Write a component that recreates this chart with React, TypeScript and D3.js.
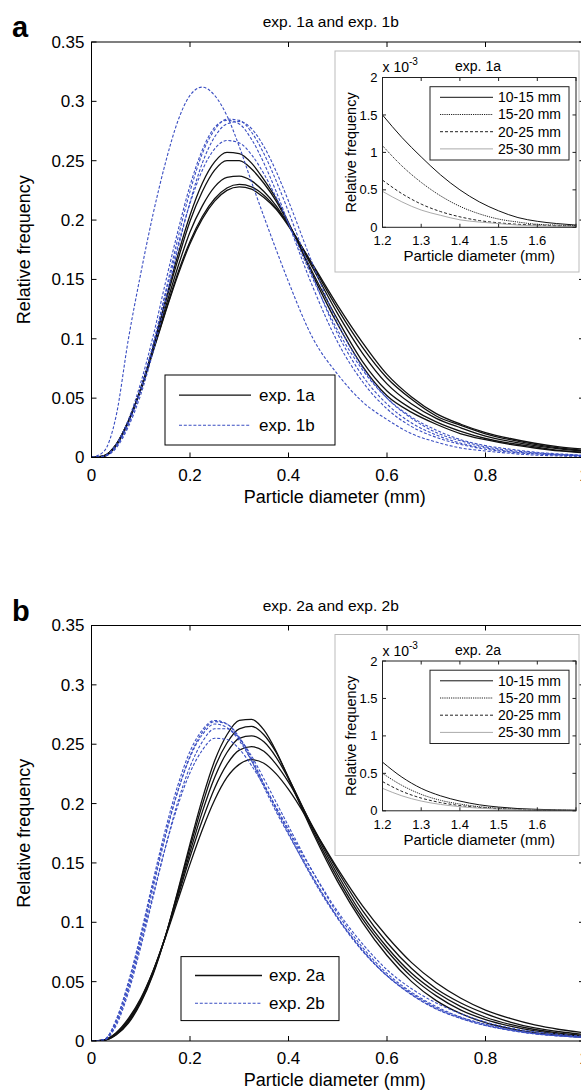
import React from 'react';
import * as d3 from 'd3';

// ---------- main plot data ----------
const X_GRID = [0, 0.025, 0.05, 0.075, 0.1, 0.125, 0.15, 0.175, 0.2, 0.225, 0.25, 0.275, 0.3, 0.325, 0.35, 0.375, 0.4, 0.45, 0.5, 0.55, 0.6, 0.65, 0.7, 0.75, 0.8, 0.85, 0.9, 0.95, 1.0];

// exp. 1a (black, solid)
const EXP1A_1 = [0, .001, .01, .03, .058, .093, .132, .17, .204, .231, .249, .257, .256, .248, .234, .218, .198, .153, .112, .077, .052, .038, .028, .02, .015, .011, .008, .0055, .004];
const EXP1A_2 = [0, .001, .01, .03, .058, .092, .13, .166, .199, .224, .242, .25, .25, .243, .231, .216, .197, .155, .116, .081, .056, .041, .03, .022, .016, .012, .009, .006, .0045];
const EXP1A_3 = [0, .0012, .0105, .0305, .0575, .091, .126, .16, .19, .212, .228, .236, .237, .233, .224, .212, .196, .159, .121, .088, .062, .045, .033, .025, .018, .0135, .01, .0073, .0055];
const EXP1A_4 = [0, .0014, .011, .031, .057, .09, .123, .155, .182, .203, .218, .227, .23, .228, .221, .21, .196, .161, .125, .093, .067, .049, .035, .027, .02, .015, .011, .008, .006];
const EXP1A_5 = [0, .0015, .011, .031, .057, .089, .122, .153, .18, .201, .216, .225, .228, .226, .219, .209, .195, .162, .128, .097, .07, .051, .037, .028, .021, .016, .012, .009, .007];
// exp. 1b (blue, dashed)
const EXP1B_1 = [0, .005, .035, .1, .155, .205, .248, .283, .305, .312, .305, .288, .262, .232, .203, .175, .148, .1, .07, .047, .032, .02, .013, .008, .0055, .0035, .002, .0013, .0008];
const EXP1B_2 = [0, .001, .009, .028, .057, .095, .139, .184, .224, .256, .276, .285, .284, .274, .256, .233, .207, .152, .104, .069, .045, .029, .019, .012, .008, .005, .0033, .0022, .0015];
const EXP1B_3 = [0, .0012, .011, .032, .063, .102, .147, .19, .229, .259, .278, .284, .281, .268, .248, .224, .197, .143, .097, .064, .041, .026, .017, .011, .007, .0045, .003, .002, .0013];
const EXP1B_4 = [0, .0008, .008, .026, .053, .089, .131, .175, .215, .248, .27, .281, .283, .277, .262, .241, .216, .162, .113, .076, .05, .033, .021, .014, .009, .006, .004, .0026, .0017];
const EXP1B_5 = [0, .001, .0095, .029, .058, .095, .137, .178, .214, .242, .26, .267, .265, .255, .239, .219, .197, .15, .107, .074, .05, .034, .023, .015, .01, .007, .0045, .003, .002];

// exp. 2a (black, solid)
const EXP2A_1 = [0, .0005, .005, .015, .032, .056, .088, .126, .166, .204, .236, .258, .27, .271, .262, .244, .221, .175, .134, .1, .072, .05, .034, .023, .0155, .0105, .007, .0047, .0032];
const EXP2A_2 = [0, .0006, .0055, .016, .033, .057, .088, .125, .163, .199, .23, .251, .263, .265, .258, .243, .222, .177, .137, .103, .076, .054, .038, .026, .018, .0125, .0085, .0058, .004];
const EXP2A_3 = [0, .0007, .006, .017, .034, .058, .088, .123, .159, .193, .222, .243, .255, .257, .252, .239, .221, .179, .14, .106, .079, .057, .041, .029, .02, .014, .0097, .0067, .0047];
const EXP2A_4 = [0, .0008, .0065, .018, .035, .059, .088, .121, .155, .186, .213, .233, .245, .248, .244, .233, .218, .18, .143, .11, .083, .061, .044, .032, .023, .016, .011, .0078, .0055];
const EXP2A_5 = [0, .001, .007, .019, .036, .059, .087, .118, .149, .178, .203, .222, .233, .237, .234, .225, .212, .179, .145, .114, .088, .066, .049, .036, .026, .019, .0135, .0097, .007];
// exp. 2b (blue, dashed)
const EXP2B_1 = [0, .001, .018, .05, .09, .135, .178, .215, .244, .262, .27, .267, .255, .236, .214, .193, .174, .137, .104, .077, .055, .039, .027, .019, .013, .009, .006, .0042, .003];
const EXP2B_2 = [0, .0008, .015, .045, .085, .129, .172, .21, .24, .26, .269, .267, .256, .238, .217, .196, .177, .138, .104, .076, .055, .039, .027, .019, .013, .009, .006, .0042, .003];
const EXP2B_3 = [0, .0012, .017, .048, .088, .132, .174, .21, .239, .258, .267, .264, .253, .236, .216, .195, .175, .136, .103, .076, .055, .04, .028, .02, .014, .0095, .0065, .0045, .0032];
const EXP2B_4 = [0, .0007, .013, .041, .079, .121, .163, .201, .231, .252, .263, .263, .255, .24, .221, .201, .181, .142, .107, .079, .057, .041, .029, .02, .014, .0095, .0065, .0045, .0032];
const EXP2B_5 = [0, .001, .015, .044, .082, .123, .163, .198, .226, .245, .255, .254, .246, .232, .215, .197, .178, .142, .109, .082, .06, .044, .032, .023, .016, .011, .0078, .0055, .004];

const Y_TICKS = [0, 0.05, 0.1, 0.15, 0.2, 0.25, 0.3, 0.35];
const Y_TICK_LABELS = ['0', '0.05', '0.1', '0.15', '0.2', '0.25', '0.3', '0.35'];
const X_TICKS = [0, 0.2, 0.4, 0.6, 0.8, 1.0];
const X_TICK_LABELS = ['0', '0.2', '0.4', '0.6', '0.8', '1'];

// ---------- inset data (values x 10^-3) ----------
const INSET_X = [1.2, 1.25, 1.3, 1.35, 1.4, 1.45, 1.5, 1.55, 1.6, 1.65, 1.7];
const INSET_CLASSES = ['10-15 mm', '15-20 mm', '20-25 mm', '25-30 mm'];
const INSET1A_10_15 = [1.5, 1.2, 0.94, 0.7, 0.5, 0.34, 0.22, 0.13, 0.08, 0.05, 0.03];
const INSET1A_15_20 = [1.09, 0.82, 0.6, 0.42, 0.28, 0.18, 0.11, 0.07, 0.04, 0.03, 0.02];
const INSET1A_20_25 = [0.63, 0.45, 0.31, 0.21, 0.14, 0.09, 0.06, 0.04, 0.03, 0.02, 0.015];
const INSET1A_25_30 = [0.48, 0.34, 0.23, 0.16, 0.1, 0.07, 0.05, 0.03, 0.02, 0.015, 0.01];
const INSET2A_10_15 = [0.65, 0.45, 0.3, 0.2, 0.13, 0.08, 0.05, 0.03, 0.02, 0.012, 0.008];
const INSET2A_15_20 = [0.5, 0.34, 0.22, 0.14, 0.09, 0.055, 0.035, 0.02, 0.013, 0.008, 0.005];
const INSET2A_20_25 = [0.39, 0.26, 0.17, 0.11, 0.07, 0.045, 0.028, 0.018, 0.011, 0.007, 0.004];
const INSET2A_25_30 = [0.3, 0.2, 0.13, 0.085, 0.055, 0.035, 0.022, 0.014, 0.009, 0.006, 0.004];
const INSET_X_TICKS = [1.2, 1.3, 1.4, 1.5, 1.6, 1.7];
const INSET_X_LABELS = ['1.2', '1.3', '1.4', '1.5', '1.6', ''];
const INSET_Y_TICKS = [0, 0.5, 1, 1.5, 2];
const INSET_Y_LABELS = ['0', '0.5', '1', '1.5', '2'];

const FONT = 'Liberation Sans, Arial, Helvetica, sans-serif';
const BLUE = '#3a4ec2';
const INSET_STYLES = [
  { stroke: '#111', dash: undefined },
  { stroke: '#222', dash: '1.2 1' },
  { stroke: '#222', dash: '3 2' },
  { stroke: '#aaa', dash: undefined },
];

type LegendLayout = { x: number; y: number; w: number; h: number; lx0: number; lx1: number; y1: number; y2: number; tx: number };

type PanelProps = {
  oy: number;
  letter: string;
  title: string;
  black: number[][];
  blue: number[][];
  nameA: string;
  nameB: string;
  insetTitle: string;
  inset: number[][];
  legend: LegendLayout;
  id: string;
};

function Panel(p: PanelProps) {
  const { oy } = p;
  const L = 91.5, R = 584, T = oy + 42, B = oy + 457.5;
  const x = d3.scaleLinear().domain([0, 1]).range([L, R]);
  const y = d3.scaleLinear().domain([0, 0.35]).range([B, T]);
  const line = d3.line<number>()
    .x((_, i) => x(X_GRID[i]))
    .y((d) => y(d))
    .curve(d3.curveMonotoneX);

  // inset
  const iL = 382.5, iR = 576, iT = oy + 77.5, iB = oy + 227.3;
  const xi = d3.scaleLinear().domain([1.2, 1.7]).range([iL, iR]);
  const yi = d3.scaleLinear().domain([0, 2]).range([iB, iT]);
  const iline = d3.line<number>()
    .x((_, i) => xi(INSET_X[i]))
    .y((d) => yi(d))
    .curve(d3.curveMonotoneX);
  const lg = p.legend;
  const tl = 5;

  return (
    <g fontFamily={FONT}>
      <defs>
        <clipPath id={`clip-${p.id}`}>
          <rect x={L} y={T} width={R - L} height={B - T} />
        </clipPath>
        <clipPath id={`iclip-${p.id}`}>
          <rect x={iL} y={iT} width={iR - iL} height={iB - iT} />
        </clipPath>
      </defs>
      <text x={12} y={oy + 37} fontSize={29} fontWeight="bold" fontFamily={FONT}>{p.letter}</text>
      <text x={(L + R) / 2 - 7} y={oy + 27} fontSize={15.5} textAnchor="middle">{p.title}</text>

      {/* curves */}
      <g clipPath={`url(#clip-${p.id})`} fill="none">
        {p.black.map((s, i) => (
          <path key={`k${i}`} d={line(s) || ''} stroke="#111" strokeWidth={1.3} />
        ))}
        {p.blue.map((s, i) => (
          <path key={`b${i}`} d={line(s) || ''} stroke={BLUE} strokeWidth={1.1} strokeDasharray="3 1.8" />
        ))}
      </g>

      {/* axes box */}
      <rect x={L} y={T} width={R - L} height={B - T} fill="none" stroke="#000" strokeWidth={1} />
      {Y_TICKS.map((t, i) => (
        <g key={`yt${i}`}>
          <line x1={L} x2={L + tl} y1={y(t)} y2={y(t)} stroke="#000" />
          <line x1={R} x2={R - tl} y1={y(t)} y2={y(t)} stroke="#000" />
          <text x={L - 7} y={y(t)} dy="0.35em" fontSize={17} textAnchor="end">{Y_TICK_LABELS[i]}</text>
        </g>
      ))}
      {X_TICKS.map((t, i) => (
        <g key={`xt${i}`}>
          <line x1={x(t)} x2={x(t)} y1={B} y2={B - tl} stroke="#000" />
          <line x1={x(t)} x2={x(t)} y1={T} y2={T + tl} stroke="#000" />
          <text x={x(t)} y={B + 23} fontSize={17} textAnchor="middle">{X_TICK_LABELS[i]}</text>
        </g>
      ))}
      <text x={(L + R) / 2 - 3} y={B + 45} fontSize={18} textAnchor="middle">Particle diameter (mm)</text>
      <text transform={`translate(30,${(T + B) / 2}) rotate(-90)`} fontSize={18} textAnchor="middle">Relative frequency</text>

      {/* main legend */}
      <rect x={lg.x} y={oy + lg.y} width={lg.w} height={lg.h} fill="#fff" stroke="#000" strokeWidth={1} />
      <line x1={lg.lx0} x2={lg.lx1} y1={oy + lg.y1} y2={oy + lg.y1} stroke="#111" strokeWidth={1.3} />
      <line x1={lg.lx0} x2={lg.lx1} y1={oy + lg.y2} y2={oy + lg.y2} stroke={BLUE} strokeWidth={1.1} strokeDasharray="3 1.8" />
      <text x={lg.tx} y={oy + lg.y1} dy="0.35em" fontSize={17}>{p.nameA}</text>
      <text x={lg.tx} y={oy + lg.y2} dy="0.35em" fontSize={17}>{p.nameB}</text>

      {/* inset */}
      <rect x={335} y={oy + 51} width={244} height={221} fill="#fff" stroke="#bbb" strokeWidth={1} />
      <g clipPath={`url(#iclip-${p.id})`} fill="none">
        {p.inset.map((s, i) => (
          <path key={`i${i}`} d={iline(s) || ''} stroke={INSET_STYLES[i].stroke} strokeWidth={1} strokeDasharray={INSET_STYLES[i].dash} />
        ))}
      </g>
      <rect x={iL} y={iT} width={iR - iL} height={iB - iT} fill="none" stroke="#222" strokeWidth={1} />
      {INSET_Y_TICKS.map((t, i) => (
        <g key={`iyt${i}`}>
          <line x1={iL} x2={iL + 3.5} y1={yi(t)} y2={yi(t)} stroke="#222" />
          <line x1={iR} x2={iR - 3.5} y1={yi(t)} y2={yi(t)} stroke="#222" />
          <text x={iL - 5} y={yi(t)} dy="0.35em" fontSize={13} textAnchor="end">{INSET_Y_LABELS[i]}</text>
        </g>
      ))}
      {INSET_X_TICKS.map((t, i) => (
        <g key={`ixt${i}`}>
          <line x1={xi(t)} x2={xi(t)} y1={iB} y2={iB - 3.5} stroke="#222" />
          <line x1={xi(t)} x2={xi(t)} y1={iT} y2={iT + 3.5} stroke="#222" />
          <text x={xi(t)} y={iB + 18} fontSize={13} textAnchor="middle">{INSET_X_LABELS[i]}</text>
        </g>
      ))}
      <text x={iL} y={oy + 72} fontSize={14}>x 10<tspan dy={-7} fontSize={10}>-3</tspan></text>
      <text x={478} y={oy + 71} fontSize={14} textAnchor="middle">{p.insetTitle}</text>
      <text x={(iL + iR) / 2} y={iB + 34} fontSize={15} textAnchor="middle">Particle diameter (mm)</text>
      <text transform={`translate(356,${(iT + iB) / 2}) rotate(-90)`} fontSize={14.5} textAnchor="middle">Relative frequency</text>

      {/* inset legend */}
      <rect x={430} y={oy + 86.7} width={139} height={73.3} fill="#fff" stroke="#222" strokeWidth={1} />
      {INSET_CLASSES.map((c, i) => {
        const yy = oy + 97.3 + i * 17.2;
        return (
          <g key={`il${i}`}>
            <line x1={440} x2={493} y1={yy} y2={yy} stroke={INSET_STYLES[i].stroke} strokeWidth={1} strokeDasharray={INSET_STYLES[i].dash} />
            <text x={498} y={yy} dy="0.35em" fontSize={14}>{c}</text>
          </g>
        );
      })}
    </g>
  );
}

export default function App() {
  return (
    <svg width={581} height={1091} style={{ position: 'absolute', left: 0, top: 0, background: '#fff' }}>
      <rect x={0} y={0} width={581} height={1091} fill="#fff" />
      <Panel
        id="a"
        oy={0}
        letter="a"
        title="exp. 1a and exp. 1b"
        black={[EXP1A_1, EXP1A_2, EXP1A_3, EXP1A_4, EXP1A_5]}
        blue={[EXP1B_1, EXP1B_2, EXP1B_3, EXP1B_4, EXP1B_5]}
        nameA="exp. 1a"
        nameB="exp. 1b"
        insetTitle="exp. 1a"
        inset={[INSET1A_10_15, INSET1A_15_20, INSET1A_20_25, INSET1A_25_30]}
        legend={{ x: 165, y: 375, w: 170, h: 70, lx0: 179, lx1: 251, y1: 395.2, y2: 425.3, tx: 259 }}
      />
      <Panel
        id="b"
        oy={583.5}
        letter="b"
        title="exp. 2a and exp. 2b"
        black={[EXP2A_1, EXP2A_2, EXP2A_3, EXP2A_4, EXP2A_5]}
        blue={[EXP2B_1, EXP2B_2, EXP2B_3, EXP2B_4, EXP2B_5]}
        nameA="exp. 2a"
        nameB="exp. 2b"
        insetTitle="exp. 2a"
        inset={[INSET2A_10_15, INSET2A_15_20, INSET2A_20_25, INSET2A_25_30]}
        legend={{ x: 181, y: 373.1, w: 158, h: 64, lx0: 195, lx1: 262, y1: 392, y2: 419.7, tx: 269 }}
      />
    </svg>
  );
}
